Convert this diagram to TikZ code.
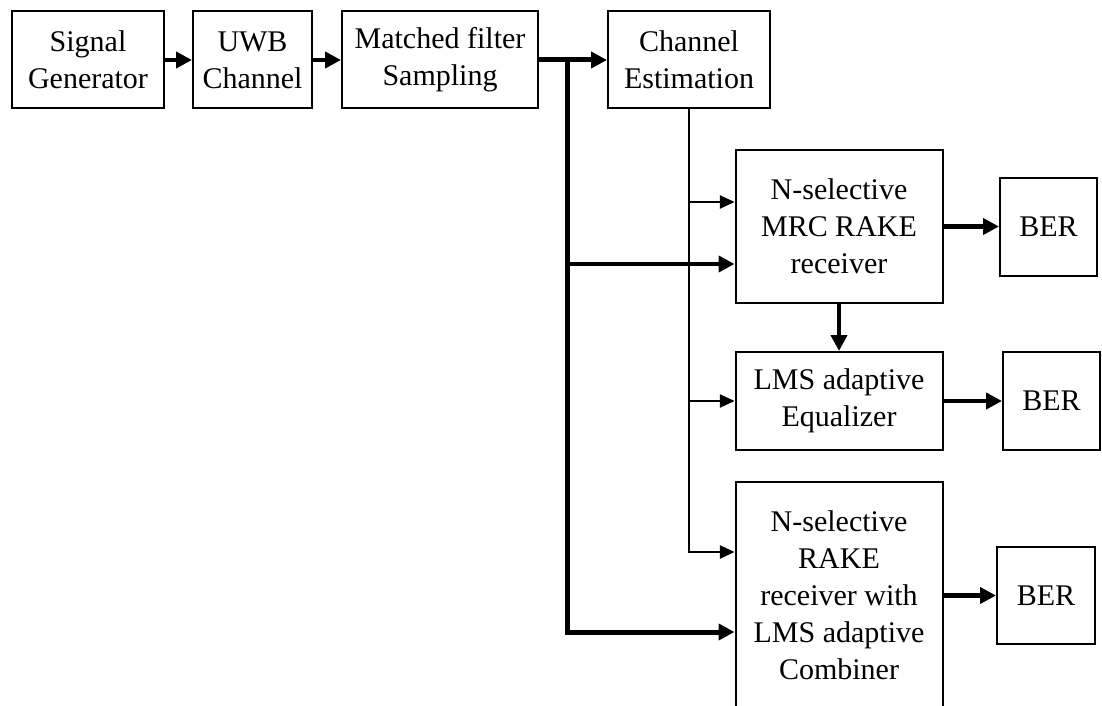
\documentclass[tikz,border=0pt]{standalone}
\usepackage{fontspec}
\setmainfont{Liberation Serif}
\usetikzlibrary{arrows.meta}
\begin{document}
\begin{tikzpicture}[x=0.75pt,y=-0.75pt,
  blk/.style={draw,line width=1.5pt,inner sep=0pt,align=center,
    font=\fontsize{22.5}{27.75}\selectfont},
  fat/.style={line width=3.4pt,-{Triangle[length=12pt,width=12pt]}},
  bus/.style={line width=3.75pt},
  slim/.style={line width=0.9pt,-{Triangle[length=11pt,width=10pt]}}]

% canvas
\path[use as bounding box,fill=white] (0,0) rectangle (1102,706);
\clip (0,0) rectangle (1102,706);

% top chain
\node[blk,minimum width=114pt,minimum height=72.75pt] (SG) at (88,60) {Signal\\Generator};
\node[blk,minimum width=89.25pt,minimum height=72.75pt] (UWB) at (252.5,60) {UWB\\Channel};
\node[blk,minimum width=147pt,minimum height=72.75pt] (MF) at (440,60) {Matched filter\\Sampling};
\node[blk,minimum width=121.5pt,minimum height=72.75pt] (CE) at (689,60) {Channel\\Estimation};

% receivers
\node[blk,minimum width=155.25pt,minimum height=114.75pt] (MRC) at (839,226.5) {N-selective\\MRC RAKE\\receiver};
\node[blk,minimum width=155.25pt,minimum height=73.5pt] (LMS) at (839,401) {LMS adaptive\\Equalizer};
\node[blk,minimum width=155.25pt,minimum height=169.5pt] (RK) at (839,595) {N-selective\\RAKE\\receiver with\\LMS adaptive\\Combiner};

% error-rate outputs
\node[blk,minimum width=72.75pt,minimum height=73.5pt] (BER1) at (1048.5,226.5) {BER};
\node[blk,minimum width=72.75pt,minimum height=73.5pt] (BER2) at (1051.5,401) {BER};
\node[blk,minimum width=73.5pt,minimum height=72.75pt] (BER3) at (1046,595.5) {BER};

% signal path
\draw[fat] (SG.east) -- (UWB.west);
\draw[fat] (UWB.east) -- (MF.west);
\draw[fat,line width=3.75pt] (MF.east) -- (CE.west);

% received-signal bus
\coordinate (busTop) at (567,60);
\draw[fat,line width=3.75pt] (busTop) |- (RK.west |- 0,632);
\draw[fat] (busTop |- 0,264) -- (MRC.west |- 0,264);

% channel estimate distribution
\draw[slim] (CE.south) |- (RK.west |- 0,552);
\draw[slim] (CE.south |- 0,202) -- (MRC.west |- 0,202);
\draw[slim] (CE.south |- LMS.west) -- (LMS.west);

% outputs
\draw[fat] (MRC.south) -- (LMS.north);
\draw[fat] (MRC.east) -- (BER1.west);
\draw[fat] (LMS.east) -- (BER2.west);
\draw[fat] (RK.east |- BER3.west) -- (BER3.west);
\end{tikzpicture}
\end{document}
